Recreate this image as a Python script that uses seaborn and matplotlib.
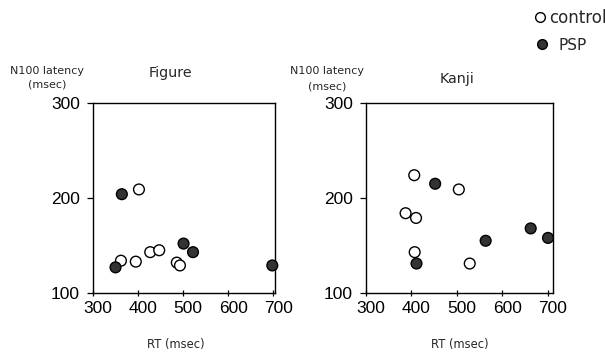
import matplotlib
matplotlib.use('Agg')
import matplotlib.pyplot as plt
import matplotlib.transforms as mtransforms
from matplotlib.lines import Line2D
import seaborn as sns
import pandas as pd

# ---- data ----
groups = ['control', 'PSP']
xticks = [300, 400, 500, 600, 700]
yticks = [100, 200, 300]

figure_control_rt = [402, 362, 395, 427, 447, 486, 493]
figure_control_n100 = [209, 134, 133, 143, 145, 132, 129]
figure_psp_rt = [364, 501, 522, 350, 698]
figure_psp_n100 = [204, 152, 143, 127, 129]

kanji_control_rt = [406, 504, 387, 410, 407, 528]
kanji_control_n100 = [224, 209, 184, 179, 143, 131]
kanji_psp_rt = [452, 411, 563, 662, 700]
kanji_psp_n100 = [215, 131, 155, 168, 158]

panel_titles = ['Figure', 'Kanji']
xlabel = 'RT (msec)'
ylabel = 'N100 latency\n(msec)'


def build(rt_c, n_c, rt_p, n_p):
    return pd.DataFrame({
        'RT': rt_c + rt_p,
        'N100': n_c + n_p,
        'group': [groups[0]] * len(rt_c) + [groups[1]] * len(rt_p),
    })


df_figure = build(figure_control_rt, figure_control_n100, figure_psp_rt, figure_psp_n100)
df_kanji = build(kanji_control_rt, kanji_control_n100, kanji_psp_rt, kanji_psp_n100)

sns.set_theme(style='ticks')
plt.rcParams['font.family'] = ['DejaVu Sans']
plt.rcParams['axes.edgecolor'] = 'black'
plt.rcParams['axes.linewidth'] = 1.0
plt.rcParams['xtick.color'] = 'black'
plt.rcParams['ytick.color'] = 'black'

W, H = 605, 353
fig = plt.figure(figsize=(W / 100, H / 100), dpi=100)
ax1 = fig.add_axes([93 / W, 60 / H, 182 / W, 190 / H])
ax2 = fig.add_axes([366 / W, 60 / H, 187 / W, 190 / H])

palette = {'control': 'white', 'PSP': '#333333'}
tick_font = 'Liberation Sans'

panels = [
    # ax, data, xmax, title x, title y, xlabel x, ylabel x, ylabel y, ylabel linespacing
    (ax1, df_figure, 704, 0.423, 1.137, 0.456, -0.25, 1.132, 1.4),
    (ax2, df_kanji, 711, 0.487, 1.105, 0.503, -0.209, 1.128, 1.7),
]

offset = mtransforms.ScaledTranslation(5 / 100, 0, fig.dpi_scale_trans)

for (ax, df, xmax, tx, ty, xlx, ylx, yly, ls), title in zip(panels, panel_titles):
    sns.scatterplot(data=df, x='RT', y='N100', hue='group', hue_order=groups,
                    palette=palette, edgecolor='black', linewidth=1.0, s=60,
                    ax=ax, legend=False, clip_on=False, zorder=3)
    ax.set_xlim(300, xmax)
    ax.set_ylim(100, 300)
    ax.set_xticks(xticks)
    ax.set_yticks(yticks)
    for sp in ax.spines.values():
        sp.set_visible(True)
        sp.set_color('black')
        sp.set_linewidth(1.0)
    ax.tick_params(axis='x', direction='inout', length=5, width=0.9, pad=3.0,
                   labelsize=12.5)
    ax.tick_params(axis='y', direction='out', length=4, width=0.9, pad=5.5,
                   labelsize=12.5)
    for lbl in ax.get_xticklabels() + ax.get_yticklabels():
        lbl.set_fontfamily(tick_font)
    for tick in ax.xaxis.get_major_ticks():
        tick.label1.set_transform(tick.label1.get_transform() + offset)

    ax.set_title(title, x=tx, y=ty, pad=0, fontsize=10.3)
    ax.set_xlabel(xlabel, fontsize=8.3)
    ax.xaxis.set_label_coords(xlx, -0.235)
    ax.set_ylabel(ylabel, rotation=0, fontsize=8, ha='center', va='center',
                  linespacing=ls)
    ax.yaxis.set_label_coords(ylx, yly)

# legend (two entries with their own spacing)
h_control = Line2D([], [], marker='o', ls='', markersize=7,
                   markerfacecolor=palette['control'], markeredgecolor='black',
                   markeredgewidth=1.0)
h_psp = Line2D([], [], marker='o', ls='', markersize=7,
               markerfacecolor=palette['PSP'], markeredgecolor='black',
               markeredgewidth=1.0)
fig.legend([h_control], [groups[0]], loc='center left',
           bbox_to_anchor=(533 / W, 1 - 18 / H), frameon=False, fontsize=12,
           handlelength=0.8, handletextpad=0.15, borderpad=0, borderaxespad=0)
fig.legend([h_psp], [groups[1]], loc='center left',
           bbox_to_anchor=(536 / W, 1 - 45 / H), frameon=False, fontsize=11,
           handlelength=0.8, handletextpad=0.65, borderpad=0, borderaxespad=0)

fig.savefig('out.png', dpi=100)
